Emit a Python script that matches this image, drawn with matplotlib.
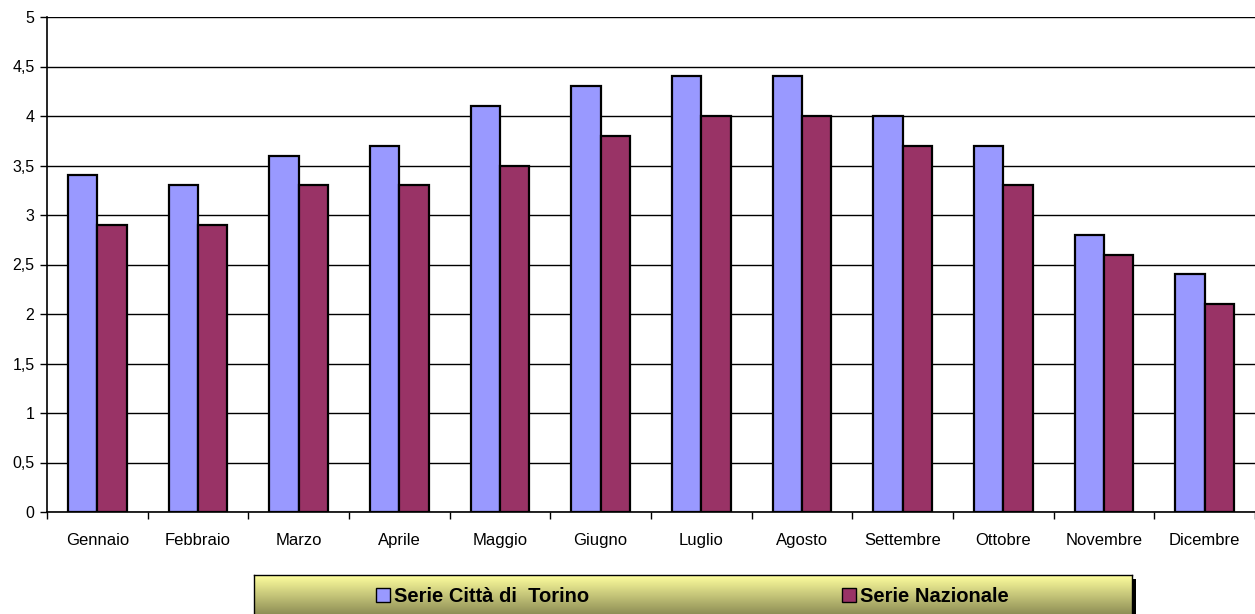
import matplotlib
matplotlib.use("Agg")
import matplotlib.pyplot as plt
import numpy as np

months = ["Gennaio", "Febbraio", "Marzo", "Aprile", "Maggio", "Giugno",
          "Luglio", "Agosto", "Settembre", "Ottobre", "Novembre", "Dicembre"]
torino = [3.4, 3.3, 3.6, 3.7, 4.1, 4.3, 4.4, 4.4, 4.0, 3.7, 2.8, 2.4]
nazionale = [2.9, 2.9, 3.3, 3.3, 3.5, 3.8, 4.0, 4.0, 3.7, 3.3, 2.6, 2.1]
yticks = [0, 0.5, 1, 1.5, 2, 2.5, 3, 3.5, 4, 4.5, 5]
ylabels = ["0", "0,5", "1", "1,5", "2", "2,5", "3", "3,5", "4", "4,5", "5"]
series_names = ["Serie Città di  Torino", "Serie Nazionale"]
c_blue = "#9999FF"
c_red = "#993366"

plt.rcParams['font.family'] = ['Liberation Sans', 'DejaVu Sans']

fig = plt.figure(figsize=(12.55, 6.14), dpi=100)
W, H = 1255, 614
ax = fig.add_axes([47 / W, (H - 512) / H, (1255 - 47) / W, (512 - 17) / H])

x = np.arange(len(months))
bw = 0.29
ax.bar(x - bw / 2, torino, bw, color=c_blue, edgecolor="black", linewidth=1.6, zorder=3)
ax.bar(x + bw / 2, nazionale, bw, color=c_red, edgecolor="black", linewidth=1.6, zorder=3)

ax.set_xlim(-0.5, len(months) - 0.5)
ax.set_ylim(0, 5)
ax.set_yticks(yticks)
ax.set_yticklabels(ylabels, fontsize=11.5)
ax.yaxis.grid(True, color="black", linewidth=1)
ax.set_axisbelow(True)
ax.set_xticks(x)
ax.set_xticklabels(months, fontsize=12)
ax.tick_params(axis="x", length=0, pad=15)
ax.set_xticks(np.arange(len(months) + 1) - 0.5, minor=True)
ax.tick_params(axis="x", which="minor", length=5, width=1)
ax.tick_params(axis="y", length=5, width=1, pad=4)
for s in ["top", "right"]:
    ax.spines[s].set_visible(False)
ax.spines["left"].set_linewidth(1.2)
ax.spines["bottom"].set_linewidth(1.2)

# legend with gradient
lx0, lx1, ly0, ly1 = 254, 1132, 575, 622
sh = fig.add_axes([(lx0 + 4) / W, (H - ly1 - 4) / H, (lx1 - lx0) / W, (ly1 - ly0) / H])
sh.set_facecolor("black")
sh.set_xticks([]); sh.set_yticks([])
for s in sh.spines.values():
    s.set_visible(False)
lg = fig.add_axes([lx0 / W, (H - ly1) / H, (lx1 - lx0) / W, (ly1 - ly0) / H])
top = np.array([1.0, 1.0, 0.62])
bot = np.array([0.47, 0.47, 0.28])
t = np.linspace(0, 1, 100)[:, None]
grad = (top[None, :] * (1 - t) + bot[None, :] * t)[:, None, :]
lg.imshow(grad, aspect="auto", extent=[0, 1, 0, 1], origin="upper")
lg.set_xlim(0, 1); lg.set_ylim(0, 1)
lg.set_xticks([]); lg.set_yticks([])
for s in lg.spines.values():
    s.set_linewidth(1)
    s.set_color("black")
L = lx1 - lx0
Hh = ly1 - ly0
for name, col, sx in [(series_names[0], c_blue, 376), (series_names[1], c_red, 842)]:
    lg.add_patch(plt.Rectangle(((sx - lx0) / L, (ly1 - 602) / Hh), 14 / L, 14 / Hh,
                               facecolor=col, edgecolor="black", linewidth=1,
                               transform=lg.transAxes))
    lg.text((sx - lx0 + 18) / L, (ly1 - 596) / Hh, name, fontsize=14.5, fontweight="bold",
            va="center", ha="left", transform=lg.transAxes)

fig.savefig("out.png", dpi=100)
